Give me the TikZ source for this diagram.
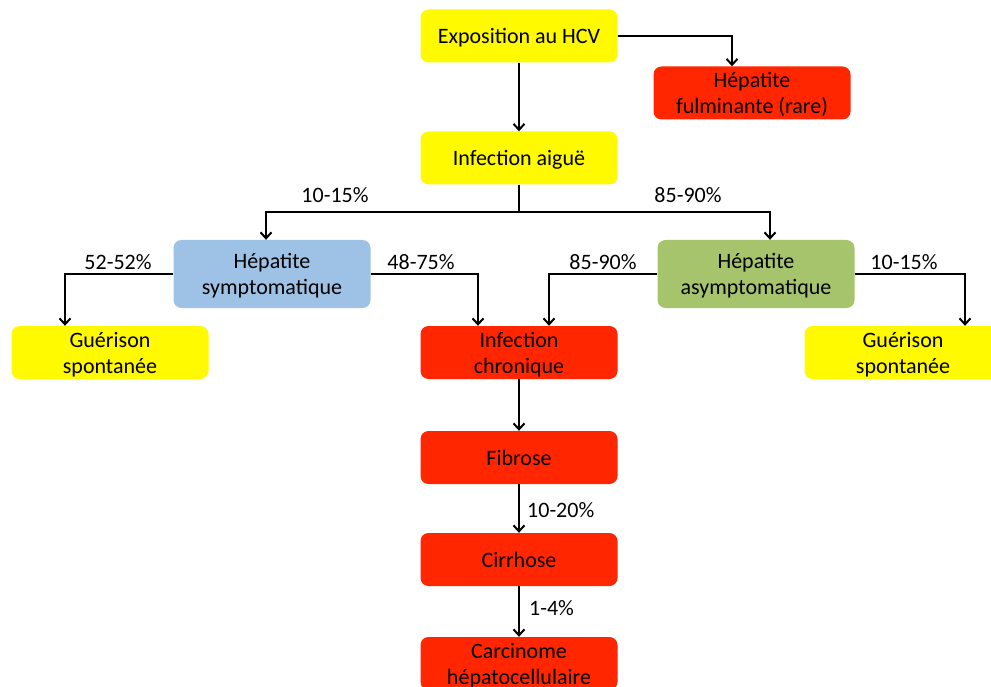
\documentclass[tikz,border=0pt]{standalone}
\usepackage{fontspec}
\setmainfont{Carlito}
\usetikzlibrary{arrows.meta}
\definecolor{jaune}{RGB}{255,250,0}
\definecolor{rouge}{RGB}{255,38,0}
\definecolor{bleu}{RGB}{158,194,230}
\definecolor{vert}{RGB}{166,196,107}

\begin{document}
\begin{tikzpicture}[x=1pt, y=-1pt,
    etape/.style={rounded corners=8pt, minimum width=197pt, minimum height=53pt, align=center, inner sep=0pt, text depth=0pt, font=\fontsize{22}{26}\selectfont},
    lien/.style={line width=2pt, -{Straight Barb[length=6pt,width=11pt]}},
    pct/.style={font=\fontsize{22}{26}\selectfont, inner sep=0pt}]
    \useasboundingbox (0,0) rectangle (991,687);

    \node[etape, fill=jaune] (expo) at (519,36) {Exposition au HCV};
    \node[etape, fill=rouge] (fulm) at (752,93) {Hépatite\\fulminante (rare)};
    \node[etape, fill=jaune] (aigue) at (519,158) {Infection aiguë};
    \node[etape, fill=bleu, minimum height=68pt] (sympt) at (272,274) {Hépatite\\symptomatique};
    \node[etape, fill=vert, minimum height=68pt] (asympt) at (756,274) {Hépatite\\asymptomatique};
    \node[etape, fill=jaune] (guer1) at (110,352.5) {Guérison\\spontanée};
    \node[etape, fill=rouge] (chron) at (519,352.5) {Infection\\chronique};
    \node[etape, fill=jaune] (guer2) at (903,352.5) {Guérison\\spontanée};
    \node[etape, fill=rouge] (fibr) at (519,457.5) {Fibrose};
    \node[etape, fill=rouge] (cirr) at (519,559.5) {Cirrhose};
    \node[etape, fill=rouge] (carc) at (519,663.5) {Carcinome\\hépatocellulaire};

    \draw[lien] (expo.east) -| ([xshift=-20pt]fulm.north);
    \draw[lien] (expo.south) -- (aigue.north);
    \draw[line width=2pt] (aigue.south) -- ++(0,27) coordinate (bif);
    \draw[lien] (bif) -| ([xshift=-6pt]sympt.north);
    \draw[lien] (bif) -| ([xshift=14pt]asympt.north);
    \draw[lien] (sympt.west) -| ([xshift=-45pt]guer1.north);
    \draw[lien] (sympt.east) -| ([xshift=-41pt]chron.north);
    \draw[lien] (asympt.west) -| ([xshift=30pt]chron.north);
    \draw[lien] (asympt.east) -| ([xshift=62pt]guer2.north);
    \draw[lien] (chron.south) -- (fibr.north);
    \draw[lien] (fibr.south) -- (cirr.north);
    \draw[lien] (cirr.south) -- (carc.north);

    \node[pct] (p1) at (335,195) {10-15\%};
    \node[pct] (p2) at (688,195) {85-90\%};
    \node[pct] (p3) at (118,262) {52-52\%};
    \node[pct] (p4) at (421,262) {48-75\%};
    \node[pct] (p5) at (603,262) {85-90\%};
    \node[pct] (p6) at (904,262) {10-15\%};
    \node[pct, anchor=west] (p7) at (527,510) {10-20\%};
    \node[pct, anchor=west] (p8) at (529,608) {1-4\%};
\end{tikzpicture}
\end{document}
